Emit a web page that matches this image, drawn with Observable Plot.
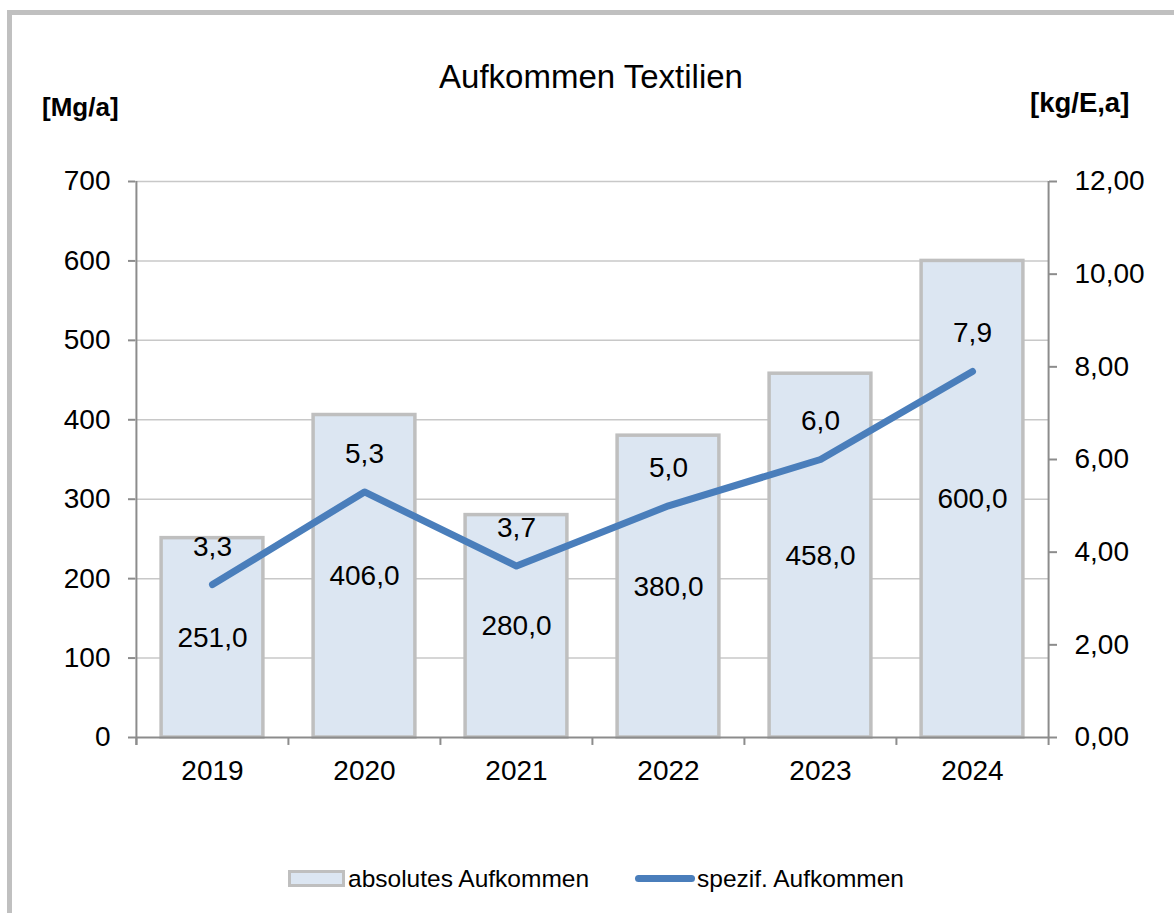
<!DOCTYPE html>
<html>
<head>
<meta charset="utf-8">
<script src="https://cdn.jsdelivr.net/npm/d3@7"></script>
<script src="https://cdn.jsdelivr.net/npm/@observablehq/plot@0.6"></script>
<style>
  html, body { margin: 0; padding: 0; background: #fff; }
  #wrap { position: relative; width: 1174px; height: 913px; overflow: hidden; font-family: "Liberation Sans", Arial, sans-serif; }
  #frame { position: absolute; left: 7px; top: 10px; width: 1200px; height: 1000px; border-top: 5px solid #c0c0c0; border-left: 5px solid #c0c0c0; box-sizing: border-box; }
  .abs { position: absolute; white-space: nowrap; color: #000; }
  #title { left: 0; width: 1182px; text-align: center; top: 58px; font-size: 33px; }
  #unitL { left: 42px; top: 92px; font-size: 26px; font-weight: bold; }
  #unitR { left: 1030px; top: 87px; font-size: 27.5px; font-weight: bold; }
  #chart { position: absolute; left: 0; top: 0; }
  .leg { position: absolute; top: 864px; font-size: 24.5px; line-height: 30px; }
</style>
</head>
<body>
<div id="wrap">
  <div id="frame"></div>
  <div class="abs" id="title">Aufkommen Textilien</div>
  <div class="abs" id="unitL">[Mg/a]</div>
  <div class="abs" id="unitR">[kg/E,a]</div>
  <div id="chart"></div>
  <div style="position:absolute;left:288px;top:870px;width:57px;height:17px;background:#dce6f2;border:3px solid #bfbfbf;box-sizing:border-box;"></div>
  <div class="leg" style="left:348px;">absolutes Aufkommen</div>
  <div style="position:absolute;left:635px;top:875px;width:60px;height:7px;background:#4a7ebb;border-radius:4px;"></div>
  <div class="leg" style="left:697px;">spezif. Aufkommen</div>
</div>
<script>
const years = ["2019", "2020", "2021", "2022", "2023", "2024"];
const absolut = [251.0, 406.0, 280.0, 380.0, 458.0, 600.0];
const spezif = [3.3, 5.3, 3.7, 5.0, 6.0, 7.9];
const leftTicks = [0, 100, 200, 300, 400, 500, 600, 700];
const rightTicks = [0, 2, 4, 6, 8, 10, 12];

const yMax = 700, y2Max = 12;
const toLeft = v => v * yMax / y2Max;
const fmt1 = v => v.toFixed(1).replace(".", ",");
const fmt2 = v => v.toFixed(2).replace(".", ",");

const W = 1174, H = 913;
const mL = 135, mR = W - 1048, mT = 181, mB = H - 737;
const step = (W - mL - mR) / years.length;

const rows = years.map((y, i) => ({year: y, abs: absolut[i], spez: spezif[i], spezY: toLeft(spezif[i])}));

const plot = Plot.plot({
  width: W, height: H,
  marginLeft: mL, marginRight: mR, marginTop: mT, marginBottom: mB,
  style: {fontFamily: "Liberation Sans, Arial, sans-serif", fontSize: "28px", color: "#000", background: "transparent", overflow: "visible"},
  x: {domain: years, padding: 0, axis: null, label: null},
  y: {domain: [0, yMax], axis: null, label: null},
  marks: [
    Plot.ruleY(leftTicks.filter(d => d > 0), {stroke: "#c8c8c8", strokeWidth: 1.5}),
    Plot.barY(rows, {x: "year", y: "abs", fill: "#dce6f2", stroke: "#bfbfbf", strokeWidth: 3.5, insetLeft: step * 0.165, insetRight: step * 0.165}),
    Plot.ruleY([0], {stroke: "#8c8c8c", strokeWidth: 2}),
    Plot.ruleX(years, {x: d => d, dx: -step / 2, y1: -10, y2: 0, stroke: "#8c8c8c", strokeWidth: 2}),
    Plot.ruleX(years.slice(0, 1), {x: d => d, dx: -step / 2, y1: -10, y2: yMax, stroke: "#8c8c8c", strokeWidth: 2}),
    Plot.ruleX(years.slice(-1), {x: d => d, dx: step / 2, y1: -10, y2: yMax, stroke: "#8c8c8c", strokeWidth: 2}),
    Plot.axisY(leftTicks, {anchor: "left", label: null, tickSize: 7, tickPadding: 18, stroke: "#8c8c8c", strokeWidth: 2, fontSize: 28, tickFormat: d => String(d)}),
    Plot.axisY(rightTicks.map(toLeft), {anchor: "right", label: null, tickSize: 8, tickPadding: 18, stroke: "#8c8c8c", strokeWidth: 2, fontSize: 28, tickFormat: d => fmt2(d * y2Max / yMax)}),
    Plot.axisX(years, {anchor: "bottom", label: null, tickSize: 0, tickPadding: 23, fontSize: 28}),
    Plot.text(rows, {x: "year", y: d => d.abs / 2, text: d => fmt1(d.abs), fontSize: 28, fill: "#000"}),
    Plot.line(rows, {x: "year", y: "spezY", stroke: "#4a7ebb", strokeWidth: 7, strokeLinecap: "round", strokeLinejoin: "round"}),
    Plot.text(rows, {x: "year", y: "spezY", dy: -38, text: d => fmt1(d.spez), fontSize: 28, fill: "#000"})
  ]
});
document.getElementById("chart").appendChild(plot);
</script>
</body>
</html>
